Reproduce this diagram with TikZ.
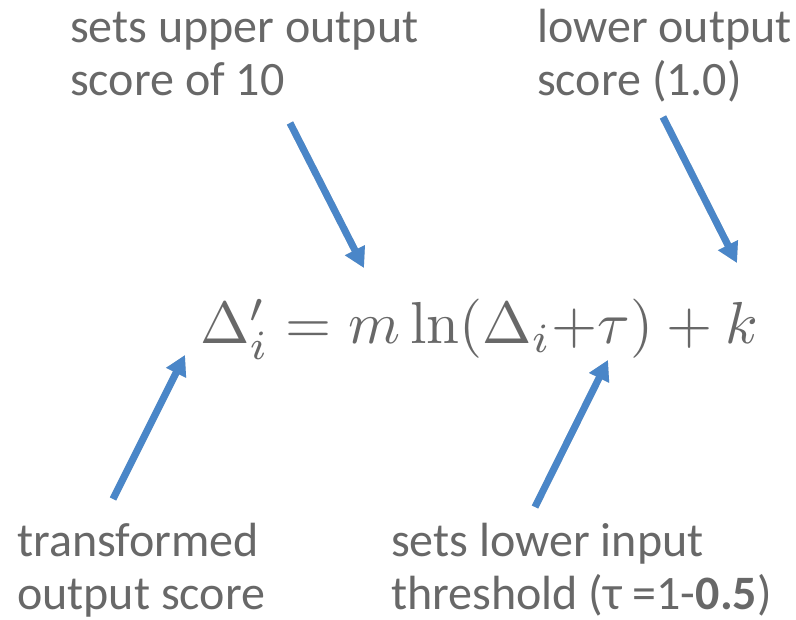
\documentclass[tikz,border=0pt]{standalone}
\usepackage[no-math]{fontspec}
\setmainfont{Carlito}
\usetikzlibrary{arrows.meta}
\definecolor{txtgray}{RGB}{104,104,104}
\definecolor{arrblue}{RGB}{74,134,200}
\tikzset{
  lbl/.style={anchor=base west, inner sep=0pt, align=left, text=txtgray,
    font=\fontsize{48}{53}\selectfont},
  blarrow/.style={draw=arrblue, line width=7pt,
    -{Triangle[width=21pt,length=20pt]}},
  shadowarrow/.style={draw=black, opacity=0.18, line width=7pt,
    -{Triangle[width=21pt,length=20pt]}},
}
\begin{document}
\begin{tikzpicture}[x=1pt,y=-1pt]
\useasboundingbox (0,0) rectangle (796,620);
% labels (anchored at the baseline of their last line)
\node[lbl] (upper) at (70,96) {sets upper output\\score of 10};
\node[lbl] (lower) at (537,96) {lower output\\score (1.0)};
\node[lbl] (trans) at (17,609) {transformed\\output score};
\node[lbl] (thresh) at (391,609) {sets lower input\\threshold (τ =1-\textbf{0.5})};
% equation
\node[anchor=base west, inner sep=0pt, text=txtgray] (eq) at (200,344)
  {\resizebox{558pt}{!}{$\Delta'_i = m\ln(\Delta_i{+}\tau) + k$}};
% arrow end points
\coordinate (a1s) at (290,123); \coordinate (a1e) at (364,268);
\coordinate (a2s) at (663,117); \coordinate (a2e) at (737,263);
\coordinate (a3s) at (113,499); \coordinate (a3e) at (185,355);
\coordinate (a4s) at (535,507); \coordinate (a4e) at (608,360);
% shadows
\begin{scope}[shift={(2,2)}]
\foreach \s/\e in {a1s/a1e,a2s/a2e,a3s/a3e,a4s/a4e}
  \draw[shadowarrow] (\s) -- (\e);
\end{scope}
% arrows
\draw[blarrow] (a1s) -- (a1e);
\draw[blarrow] (a2s) -- (a2e);
\draw[blarrow] (a3s) -- (a3e);
\draw[blarrow] (a4s) -- (a4e);
\end{tikzpicture}
\end{document}
